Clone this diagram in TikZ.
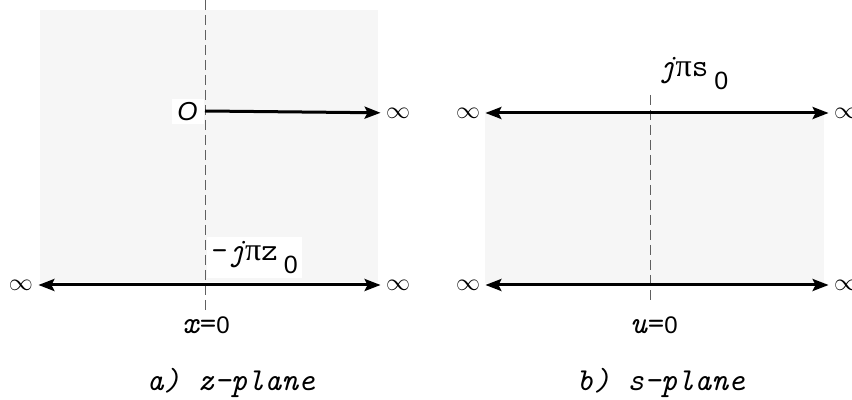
\documentclass[tikz,border=0pt]{standalone}
\usepackage{fontspec}
\setmainfont{Latin Modern Mono}
\newfontfamily\digitfont{Liberation Sans}
\newfontfamily\greekfont{Liberation Serif}
\usetikzlibrary{arrows.meta}
\definecolor{planegray}{HTML}{F6F6F6}
\definecolor{axisgray}{HTML}{606060}
\newcommand{\nought}[1]{{\digitfont\fontsize{#1}{#1}\selectfont 0}}
\newcommand{\gpi}{{\greekfont π}}

\begin{document}
\begin{tikzpicture}[x=0.5pt,y=-0.5pt,
  plane/.style={fill=planegray},
  axis/.style={draw=axisgray,line width=0.5pt,dash pattern=on 5pt off 2.5pt},
  ray/.style={line width=1.5pt,-{Stealth[length=8pt,width=6pt,inset=1.5pt]}},
  strip/.style={line width=1.5pt,{Stealth[length=8pt,width=6pt,inset=1.5pt]}-{Stealth[length=8pt,width=6pt,inset=1.5pt]}},
  lbl/.style={inner sep=1pt,font=\fontsize{16}{18}\selectfont},
  tag/.style={lbl,fill=white},
  inf/.style={lbl,inner sep=2.5pt,font=\fontsize{13}{15}\selectfont}
]
\useasboundingbox (0,0) rectangle (852,400);
\fill[plane] (40,10) rectangle (378,282);
\fill[plane] (485,111) rectangle (824,283);
\coordinate (xtop) at (205,0);
\coordinate (xbot) at (205,312);
\coordinate (utop) at (650,95);
\coordinate (ubot) at (650,300);
\draw[axis] (xtop) -- (xbot);
\draw[axis] (utop) -- (ubot);
\node[tag,anchor=east,minimum height=12.5pt,minimum width=16pt] (o) at (204,112) {{\digitfont\itshape\fontsize{13}{15}\selectfont O}};
\coordinate (oz) at (205,111);
\node[inf] (zinf1) at (398,113) {$\infty$};
\node[inf] (zinf2) at (21,285) {$\infty$};
\node[inf] (zinf3) at (398,285) {$\infty$};
\node[tag,anchor=south west,inner sep=2pt] (zlow) at (207,278) {-\textit{j}\gpi z\hspace{3pt}\raisebox{-0.4em}{\nought{12.5}}};
\node[inf] (uinf1) at (468,113) {$\infty$};
\node[inf] (uinf2) at (846,113) {$\infty$};
\node[inf] (uinf3) at (468,285) {$\infty$};
\node[inf] (uinf4) at (846,285) {$\infty$};
\node[lbl,anchor=south west] (shigh) at (656,92) {\textit{j}\gpi s\hspace{3pt}\raisebox{-0.4em}{\nought{12.5}}};
\draw[ray] (oz) -- (zinf1);
\draw[strip] (zinf2) -- (zinf3);
\draw[strip] (uinf1) -- (uinf2);
\draw[strip] (uinf3) -- (uinf4);
\node[lbl] (xzero) at (206,325) {\textit{x}=\nought{12}};
\node[lbl] (uzero) at (654,325) {\textit{u}=\nought{12}};
\node[lbl] (capa) at (231,383) {\textit{a) z-plane}};
\node[lbl] (capb) at (661,383) {\textit{b) s-plane}};
\end{tikzpicture}
\end{document}
